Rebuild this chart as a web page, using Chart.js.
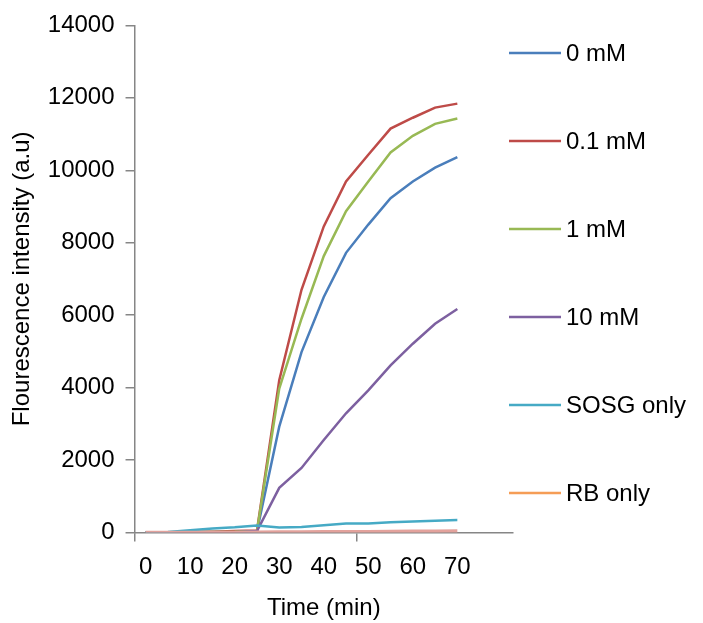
<!DOCTYPE html>
<html>
<head>
<meta charset="utf-8">
<script src="https://cdn.jsdelivr.net/npm/chart.js@4/dist/chart.umd.min.js"></script>
<style>
  html, body { margin: 0; padding: 0; background: #fff; }
  #wrap { width: 703px; height: 623px; }
</style>
</head>
<body>
<div id="wrap"><canvas id="myChart"></canvas></div>
<script>
// time points (min), last two categories are empty like the sheet
var times = ['0', '5', '10', '15', '20', '25', '30', '35', '40', '45', '50', '55', '60', '65', '70', '', ''];
var seriesNames = ['0 mM', '0.1 mM', '1 mM', '10 mM', 'SOSG only', 'RB only'];

var mM0 = [0, 5, 10, 10, 15, 40, 2920, 4980, 6500, 7720, 8500, 9230, 9690, 10070, 10360];
var mM01 = [0, 0, 10, 20, 40, 55, 4200, 6700, 8450, 9690, 10430, 11150, 11450, 11730, 11840];
var mM1 = [0, 5, 10, 10, 15, 40, 3970, 5900, 7630, 8870, 9690, 10490, 10950, 11280, 11430];
var mM10 = [0, 0, 0, 0, 5, 40, 1230, 1780, 2550, 3290, 3920, 4610, 5210, 5760, 6170];
var sosgOnly = [0, 10, 60, 110, 140, 190, 135, 150, 200, 245, 245, 280, 300, 325, 340];
var rbOnly = [0, 0, 0, 0, 0, 5, 10, 10, 15, 20, 20, 25, 30, 35, 40];

var lineColors = ['#4A7EBB', '#BE4B48', '#98B954', '#7D60A0', '#46AAC5', '#E3A29C'];
var legendColors = ['#4A7EBB', '#BE4B48', '#98B954', '#7D60A0', '#46AAC5', '#F59D56'];
var allData = [mM0, mM01, mM1, mM10, sosgOnly, rbOnly];

var font = "'Liberation Sans', Arial, sans-serif";
var axisGrey = '#868686';

var datasets = allData.map(function (d, i) {
    return {
        label: seriesNames[i],
        data: d,
        borderColor: lineColors[i],
        backgroundColor: lineColors[i],
        borderWidth: i == 5 ? 3.5 : 2.5,
        pointRadius: 0,
        tension: 0,
        order: 6 - i
    };
});

// legend drawn on the right, spaced like the original
const sideLegend = {
    id: 'sideLegend',
    afterDraw(chart) {
        const ctx = chart.ctx;
        ctx.save();
        chart.data.datasets.forEach(function (ds, i) {
            var y = 53 + i * 88;
            ctx.strokeStyle = legendColors[i];
            ctx.lineWidth = 2.5;
            ctx.beginPath();
            ctx.moveTo(509, y);
            ctx.lineTo(561, y);
            ctx.stroke();
            ctx.fillStyle = '#000';
            ctx.font = '24px ' + font;
            ctx.textBaseline = 'middle';
            ctx.fillText(ds.label, 566, y + 1);
        });
        ctx.restore();
    }
};

new Chart('myChart', {
    type: 'line',
    data: { labels: times, datasets: datasets },
    options: {
        responsive: true,
        maintainAspectRatio: false,
        animation: false,
        layout: { padding: { top: 20, right: 190, bottom: 0, left: 0 } },
        plugins: { legend: { display: false }, tooltip: { enabled: false } },
        scales: {
            x: {
                type: 'category',
                offset: true,
                grid: {
                    offset: true,
                    drawOnChartArea: false,
                    tickLength: 9,
                    lineWidth: 1.5,
                    color: function (c) { return (c.index == 0 || c.index == 10) ? axisGrey : 'rgba(0,0,0,0)'; }
                },
                border: { color: axisGrey, width: 1.5 },
                ticks: {
                    autoSkip: false,
                    maxRotation: 0,
                    padding: 12,
                    color: '#000',
                    font: { family: font, size: 24 },
                    callback: function (v, i) { return (i % 2 == 0 && i <= 14) ? times[i] : ''; }
                },
                title: {
                    display: true,
                    text: 'Time (min)',
                    color: '#000',
                    font: { family: font, size: 24 },
                    padding: { top: 0, bottom: 0 }
                }
            },
            y: {
                min: 0,
                max: 14000,
                ticks: {
                    stepSize: 2000,
                    padding: 11,
                    color: '#000',
                    font: { family: font, size: 24 },
                    callback: function (v) { return String(v); }
                },
                grid: { drawOnChartArea: false, tickLength: 9, color: axisGrey, lineWidth: 1.5 },
                border: { color: axisGrey, width: 1.5 },
                title: {
                    display: true,
                    text: 'Flourescence intensity (a.u)',
                    color: '#000',
                    font: { family: font, size: 24 },
                    padding: { top: 8, bottom: 0 }
                }
            }
        }
    },
    plugins: [sideLegend]
});
</script>
</body>
</html>
